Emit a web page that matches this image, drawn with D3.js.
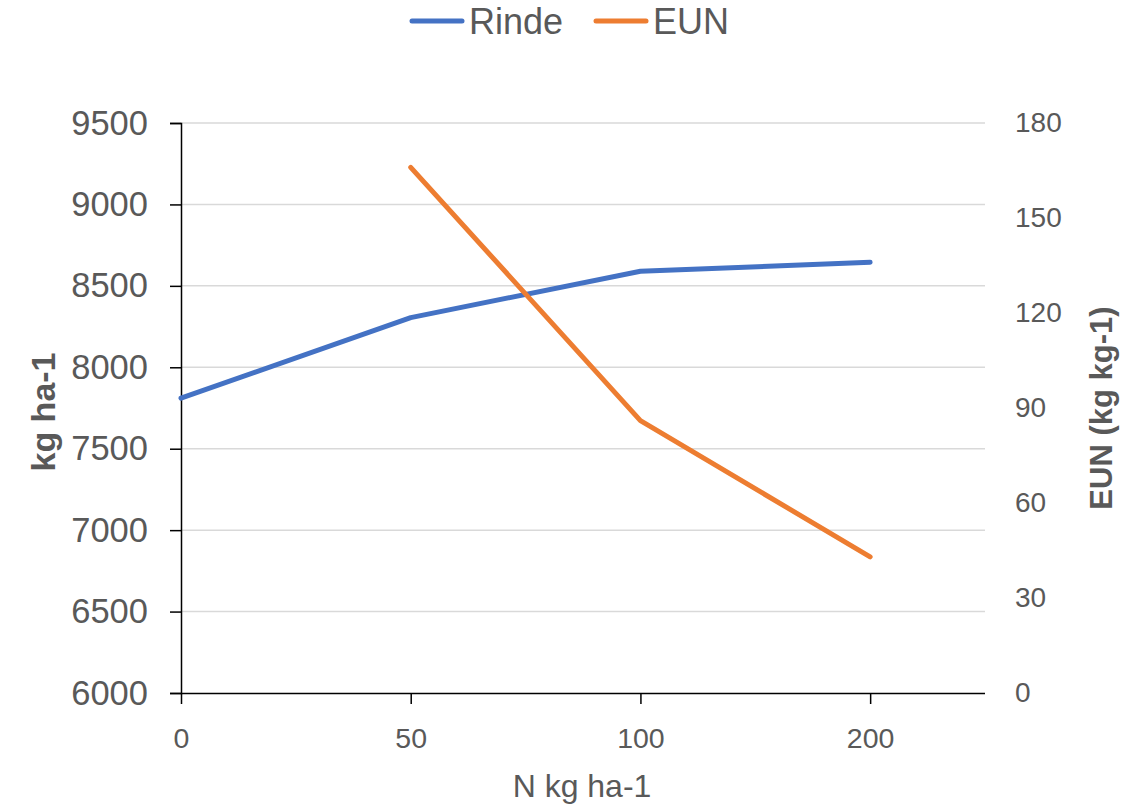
<!DOCTYPE html>
<html>
<head>
<meta charset="utf-8">
<script src="https://cdn.jsdelivr.net/npm/d3@7"></script>
<style>
  body { margin: 0; background: #fff; }
  text { font-family: "Liberation Sans", Arial, sans-serif; fill: #595959; }
</style>
</head>
<body>
<svg id="drawing_region"></svg>
<script>
const categories = ["0", "50", "100", "200"];
const rinde = [7810, 8305, 8590, 8645];
const eun = [null, 166, 86, 43];
const leftTicks = [6000, 6500, 7000, 7500, 8000, 8500, 9000, 9500];
const rightTicks = [0, 30, 60, 90, 120, 150, 180];

const width = 1138, height = 806;
const margin = { top: 123, right: 153, bottom: 113, left: 181 };
const plotW = width - margin.left - margin.right;
const plotH = height - margin.top - margin.bottom;

const svg = d3.select("#drawing_region")
  .attr("width", width)
  .attr("height", height);

const g = svg.append("g")
  .attr("transform", `translate(${margin.left},${margin.top})`);

// categories sit on ticks, the axis runs half a step past the last one
const step = plotW / (categories.length - 0.5);
const x = d3.scalePoint().domain(categories).range([0, step * (categories.length - 1)]);
const yL = d3.scaleLinear().domain([6000, 9500]).range([plotH, 0]);
const yR = d3.scaleLinear().domain([0, 180]).range([plotH, 0]);

// gridlines
g.append("g")
  .selectAll("line")
  .data(leftTicks.slice(1))
  .enter()
  .append("line")
  .attr("x1", 0).attr("x2", plotW)
  .attr("y1", d => yL(d)).attr("y2", d => yL(d))
  .attr("stroke", "#d9d9d9")
  .attr("stroke-width", 1.5);

// left axis
const axL = g.append("g")
  .call(d3.axisLeft(yL).tickValues(leftTicks).tickFormat(d3.format("d")).tickSize(11).tickPadding(22));
axL.select(".domain").attr("stroke", "#000").attr("stroke-width", 1.5);
axL.selectAll(".tick line").attr("stroke", "#000").attr("stroke-width", 1.5);
axL.selectAll(".tick text").attr("font-size", "34.5px").attr("fill", "#595959").attr("font-family", null);

// right axis (labels only)
const axR = g.append("g")
  .attr("transform", `translate(${plotW},0)`)
  .call(d3.axisRight(yR).tickValues(rightTicks).tickSize(0).tickPadding(30));
axR.select(".domain").remove();
axR.selectAll(".tick text").attr("font-size", "28px").attr("fill", "#595959").attr("font-family", null);

// bottom axis
const axB = g.append("g")
  .attr("transform", `translate(0,${plotH})`)
  .call(d3.axisBottom(x).tickSize(11).tickPadding(24).tickSizeOuter(0));
axB.select(".domain").attr("d", `M0,0.5H${plotW}`).attr("stroke", "#000").attr("stroke-width", 1.5);
axB.selectAll(".tick line").attr("stroke", "#000").attr("stroke-width", 1.5);
axB.selectAll(".tick text").attr("font-size", "28.5px").attr("fill", "#595959").attr("font-family", null);

// lines
const lineL = d3.line()
  .x((d, i) => x(categories[i]))
  .y(d => yL(d));
const lineR = d3.line()
  .defined(d => d !== null)
  .x((d, i) => x(categories[i]))
  .y(d => yR(d));

g.append("path")
  .datum(rinde)
  .attr("d", lineL)
  .attr("fill", "none")
  .attr("stroke", "#4472c4")
  .attr("stroke-width", 5)
  .attr("stroke-linecap", "round")
  .attr("stroke-linejoin", "round");

g.append("path")
  .datum(eun)
  .attr("d", lineR)
  .attr("fill", "none")
  .attr("stroke", "#ed7d31")
  .attr("stroke-width", 5)
  .attr("stroke-linecap", "round")
  .attr("stroke-linejoin", "round");

// axis titles
svg.append("text")
  .attr("transform", `translate(55,${margin.top + plotH / 2 + 4}) rotate(-90)`)
  .attr("text-anchor", "middle")
  .attr("font-size", "34px")
  .attr("font-weight", "bold")
  .text("kg ha-1");

svg.append("text")
  .attr("transform", `translate(1112,${margin.top + plotH / 2}) rotate(-90)`)
  .attr("text-anchor", "middle")
  .attr("font-size", "31px")
  .attr("font-weight", "bold")
  .text("EUN (kg kg-1)");

svg.append("text")
  .attr("x", 582)
  .attr("y", 797)
  .attr("text-anchor", "middle")
  .attr("font-size", "32px")
  .text("N kg ha-1");

// legend
const legendItems = [
  { label: "Rinde", color: "#4472c4", x: 412 },
  { label: "EUN", color: "#ed7d31", x: 596 }
];
const lg = svg.append("g").selectAll("g")
  .data(legendItems)
  .enter()
  .append("g")
  .attr("transform", d => `translate(${d.x},21)`);
lg.append("line")
  .attr("x1", 0).attr("x2", 50)
  .attr("stroke", d => d.color)
  .attr("stroke-width", 5)
  .attr("stroke-linecap", "round");
lg.append("text")
  .attr("x", 57)
  .attr("y", 13)
  .attr("font-size", "36px")
  .text(d => d.label);
</script>
</body>
</html>
